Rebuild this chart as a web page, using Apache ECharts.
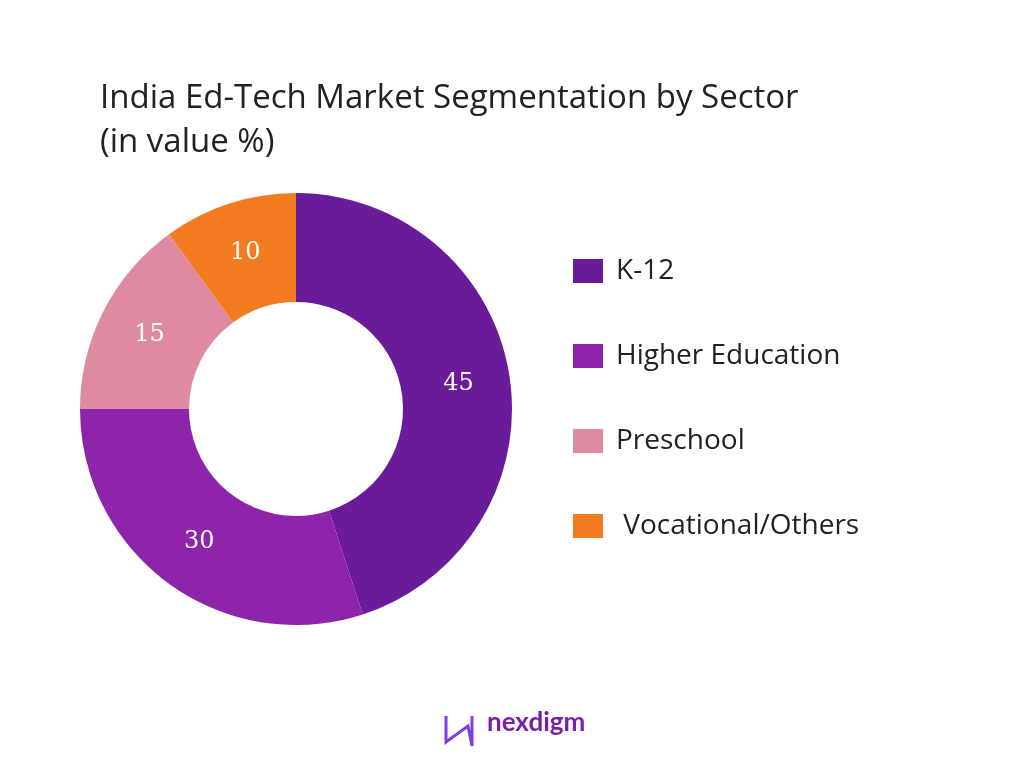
<!DOCTYPE html>
<html><head><meta charset="utf-8">
<script src="https://cdn.jsdelivr.net/npm/echarts@6/dist/echarts.min.js"></script>
<style>html,body{margin:0;background:#fff}#c{width:1024px;height:768px}</style>
</head><body><div id="c"></div>
<script>
const categories = ["K-12", "Higher Education", "Preschool", "Vocational/Others"];
const values = [45, 30, 15, 10];
const colors = ["#6a1b9a", "#8e24aa", "#de8aa0", "#f47c20"];
const chart = echarts.init(document.getElementById('c'));
chart.setOption({
  backgroundColor: '#fff',
  title: {
    text: 'India Ed-Tech Market Segmentation by Sector\n(in value %)',
    left: 95, top: 72,
    textStyle: {fontFamily: 'Open Sans', fontWeight: 'normal', fontSize: 33, lineHeight: 44, color: '#222'}
  },
  legend: {
    orient: 'vertical', left: 568, top: 252, itemWidth: 30, itemHeight: 24, itemGap: 57,
    icon: 'rect', data: categories,
    formatter: n => n === 'Vocational/Others' ? ' ' + n : n,
    textStyle: {fontFamily: 'Open Sans', fontSize: 28, color: '#222', padding: [0, 0, 0, 8]}
  },
  graphic: [
    {type: 'text', left: 487, top: 710, style: {text: 'nexdigm', font: 'bold 26px Lato', fill: '#7b1fa2'}},
    {type: 'polyline', shape: {points: [[446,716],[446,742],[468,726],[472,746],[472,716]]}, style: {stroke: '#7b3fe4', lineWidth: 3, fill: null}}
  ],
  series: [{
    type: 'pie', center: [296, 409], radius: [107, 216], startAngle: 90, clockwise: true,
    color: colors,
    label: {position: 'inside', formatter: '{c}', color: '#fff', fontFamily: 'DejaVu Serif', fontSize: 24},
    labelLine: {show: false},
    data: categories.map((c, i) => ({name: c, value: values[i]}))
  }]
});
</script></body></html>
